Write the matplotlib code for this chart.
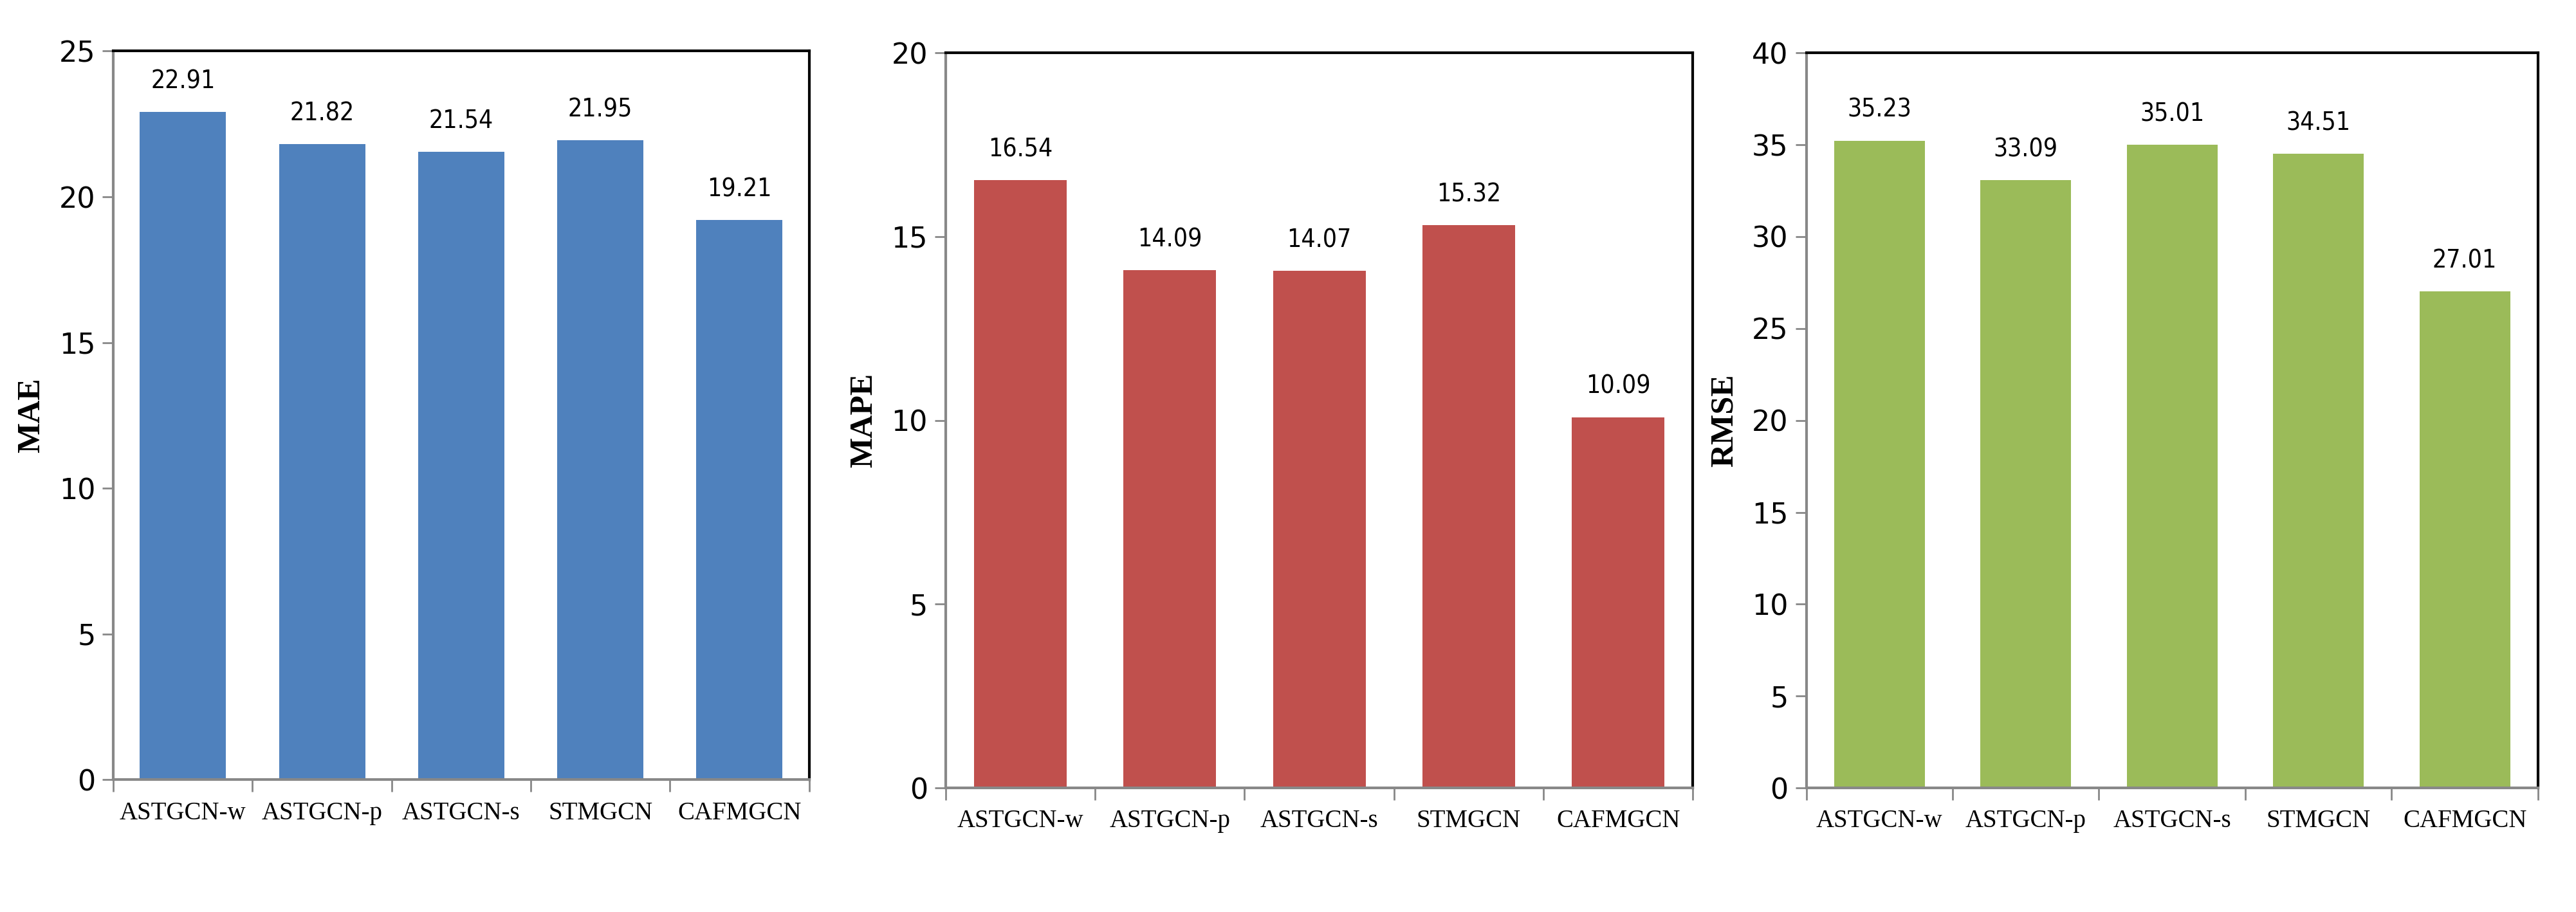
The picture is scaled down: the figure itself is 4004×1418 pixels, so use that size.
import matplotlib
matplotlib.use("Agg")
import matplotlib.pyplot as plt
import numpy as np

models = ["ASTGCN-w", "ASTGCN-p", "ASTGCN-s", "STMGCN", "CAFMGCN"]
mae = [22.91, 21.82, 21.54, 21.95, 19.21]
mape = [16.54, 14.09, 14.07, 15.32, 10.09]
rmse = [35.23, 33.09, 35.01, 34.51, 27.01]

panels = [
    ("MAE", mae, "#4F81BD", 25, [0.044, 0.145, 0.270, 0.799]),
    ("MAPE", mape, "#C0504D", 20, [0.367, 0.136, 0.290, 0.806]),
    ("RMSE", rmse, "#9BBB59", 40, [0.701, 0.136, 0.284, 0.806]),
]

fig = plt.figure(figsize=(40.05, 14.18), dpi=100)
x = np.arange(len(models))
for name, vals, color, ymax, rect in panels:
    ax = fig.add_axes(rect)
    ax.bar(x, vals, width=0.62, color=color)
    for xi, v in zip(x, vals):
        ax.text(xi, v + ymax * 0.025, f"{v:.2f}", ha="center", va="bottom",
                fontsize=28, family="DejaVu Sans", stretch="condensed")
    ax.set_xlim(-0.5, len(models) - 0.5)
    ax.set_ylim(0, ymax)
    ax.set_yticks(np.arange(0, ymax + 1, 5))
    ax.set_xticks(x)
    ax.set_xticklabels(models, family="Liberation Serif", fontsize=28)
    ax.set_xticks(np.arange(-0.5, len(models), 1), minor=True)
    ax.tick_params(axis="x", which="major", length=0, pad=24)
    ax.tick_params(axis="x", which="minor", length=14, width=2, color="#888888")
    ax.tick_params(axis="y", length=12, width=2, color="#888888", labelsize=32, pad=8)
    for lab in ax.get_yticklabels():
        lab.set_family("DejaVu Sans")
    ax.set_ylabel(name, family="Liberation Serif", fontweight="bold", fontsize=36, labelpad=14)
    for s in ["top", "right"]:
        ax.spines[s].set_color("black")
        ax.spines[s].set_linewidth(3)
    for s in ["left", "bottom"]:
        ax.spines[s].set_color("#888888")
        ax.spines[s].set_linewidth(3)

fig.savefig("out.png", dpi=100)
